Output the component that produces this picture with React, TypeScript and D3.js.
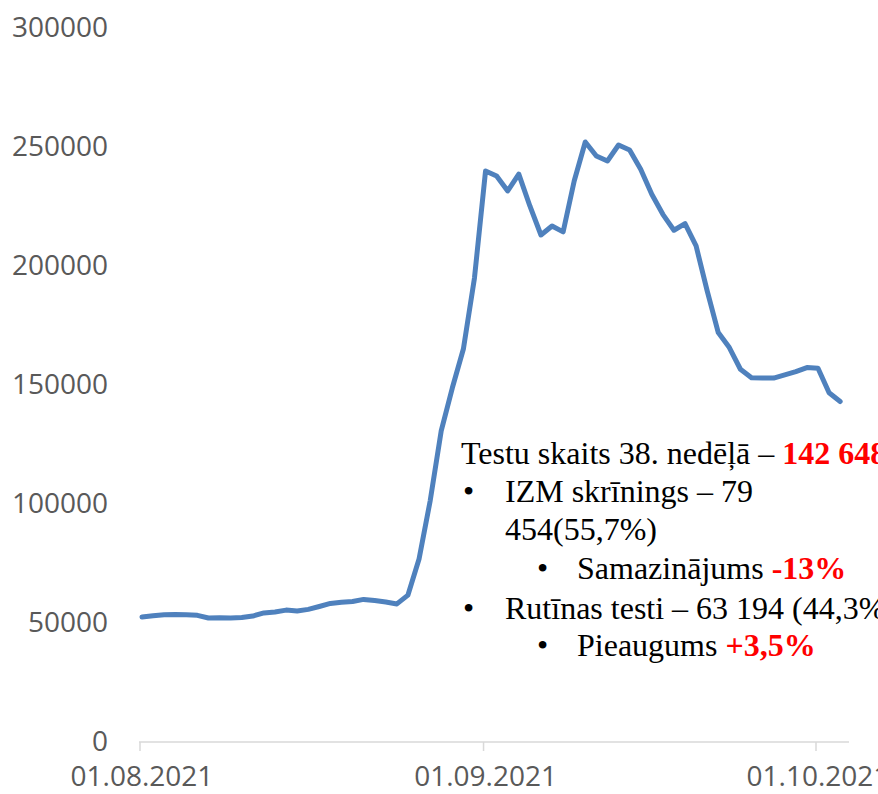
import React from "react";
import * as d3 from "d3";

// weekly test counts (7-day rolling), daily from 01.08.2021
const startDate = new Date(2021, 7, 1);
const testCounts = [
  52100, 52600, 53000, 53200, 53000, 52800, 51700, 51800, 51700, 51900,
  52500, 53800, 54200, 55000, 54600, 55300, 56500, 57800, 58300, 58600,
  59500, 59000, 58400, 57600, 61300, 76500, 100800, 130300, 148300, 164700,
  194500, 239500, 237400, 231100, 238200, 224800, 212600, 216400, 213900, 235300,
  251700, 245800, 243700, 250400, 248300, 240200, 229700, 221300, 214600, 217400,
  208000, 189100, 171600, 165300, 156200, 152600, 152500, 152500, 153800, 155200,
  156900, 156600, 146300, 142648,
];
const yTicks = [0, 50000, 100000, 150000, 200000, 250000, 300000];
const xTickDates = [new Date(2021, 7, 1), new Date(2021, 8, 1), new Date(2021, 9, 1)];

const W = 878;
const H = 794;

const axisFont = "'Open Sans', 'Noto Sans', sans-serif";
const noteFont = "'Liberation Serif', 'Times New Roman', serif";

const App: React.FC = () => {
  const x = d3
    .scaleTime()
    .domain([new Date(2021, 7, 1), new Date(2021, 9, 1)])
    .range([142, 818]);
  const y = d3.scaleLinear().domain([0, 300000]).range([741, 27]);

  const points = testCounts.map((v, i) => ({
    date: d3.timeDay.offset(startDate, i),
    value: v,
  }));

  const line = d3
    .line<{ date: Date; value: number }>()
    .x((d) => x(d.date))
    .y((d) => y(d.value));

  const fmt = d3.timeFormat("%d.%m.%Y");

  return (
    <svg
      width={W}
      height={H}
      style={{ position: "absolute", left: 0, top: 0, background: "#fff" }}
    >
      {/* y axis labels, no gridlines */}
      {yTicks.map((t) => (
        <text
          key={t}
          x={108}
          y={y(t)}
          dy="0.36em"
          textAnchor="end"
          fontFamily={axisFont}
          fontSize={28}
          fill="#595959"
        >
          {t}
        </text>
      ))}

      {/* x axis */}
      <line x1={139} x2={849} y1={742} y2={742} stroke="#d9d9d9" strokeWidth={1.5} />
      {xTickDates.map((d) => (
        <g key={d.getTime()}>
          <line
            x1={x(d) - 2}
            x2={x(d) - 2}
            y1={742}
            y2={751}
            stroke="#d9d9d9"
            strokeWidth={1.5}
          />
          <text
            x={x(d)}
            y={786}
            textAnchor="middle"
            fontFamily={axisFont}
            fontSize={28}
            fill="#595959"
          >
            {fmt(d)}
          </text>
        </g>
      ))}

      <path
        d={line(points) ?? ""}
        fill="none"
        stroke="#4F81BD"
        strokeWidth={5}
        strokeLinejoin="round"
        strokeLinecap="round"
      />

      {/* annotation */}
      <g fontFamily={noteFont} fontSize={32} fill="#000">
        <text x={461} y={464}>
          Testu skaits 38. nedēļā –{" "}
          <tspan fill="#FF0000" fontWeight="bold">
            142 648
          </tspan>
        </text>
        <text x={463} y={502}>•</text>
        <text x={505} y={502}>IZM skrīnings – 79</text>
        <text x={505} y={540}>454(55,7%)</text>
        <text x={537} y={579}>•</text>
        <text x={577} y={579}>
          Samazinājums{" "}
          <tspan fill="#FF0000" fontWeight="bold">
            -13%
          </tspan>
        </text>
        <text x={463} y={619}>•</text>
        <text x={505} y={619}>Rutīnas testi – 63 194 (44,3%)</text>
        <text x={537} y={656}>•</text>
        <text x={577} y={656}>
          Pieaugums{" "}
          <tspan fill="#FF0000" fontWeight="bold">
            +3,5%
          </tspan>
        </text>
      </g>
    </svg>
  );
};

export default App;
